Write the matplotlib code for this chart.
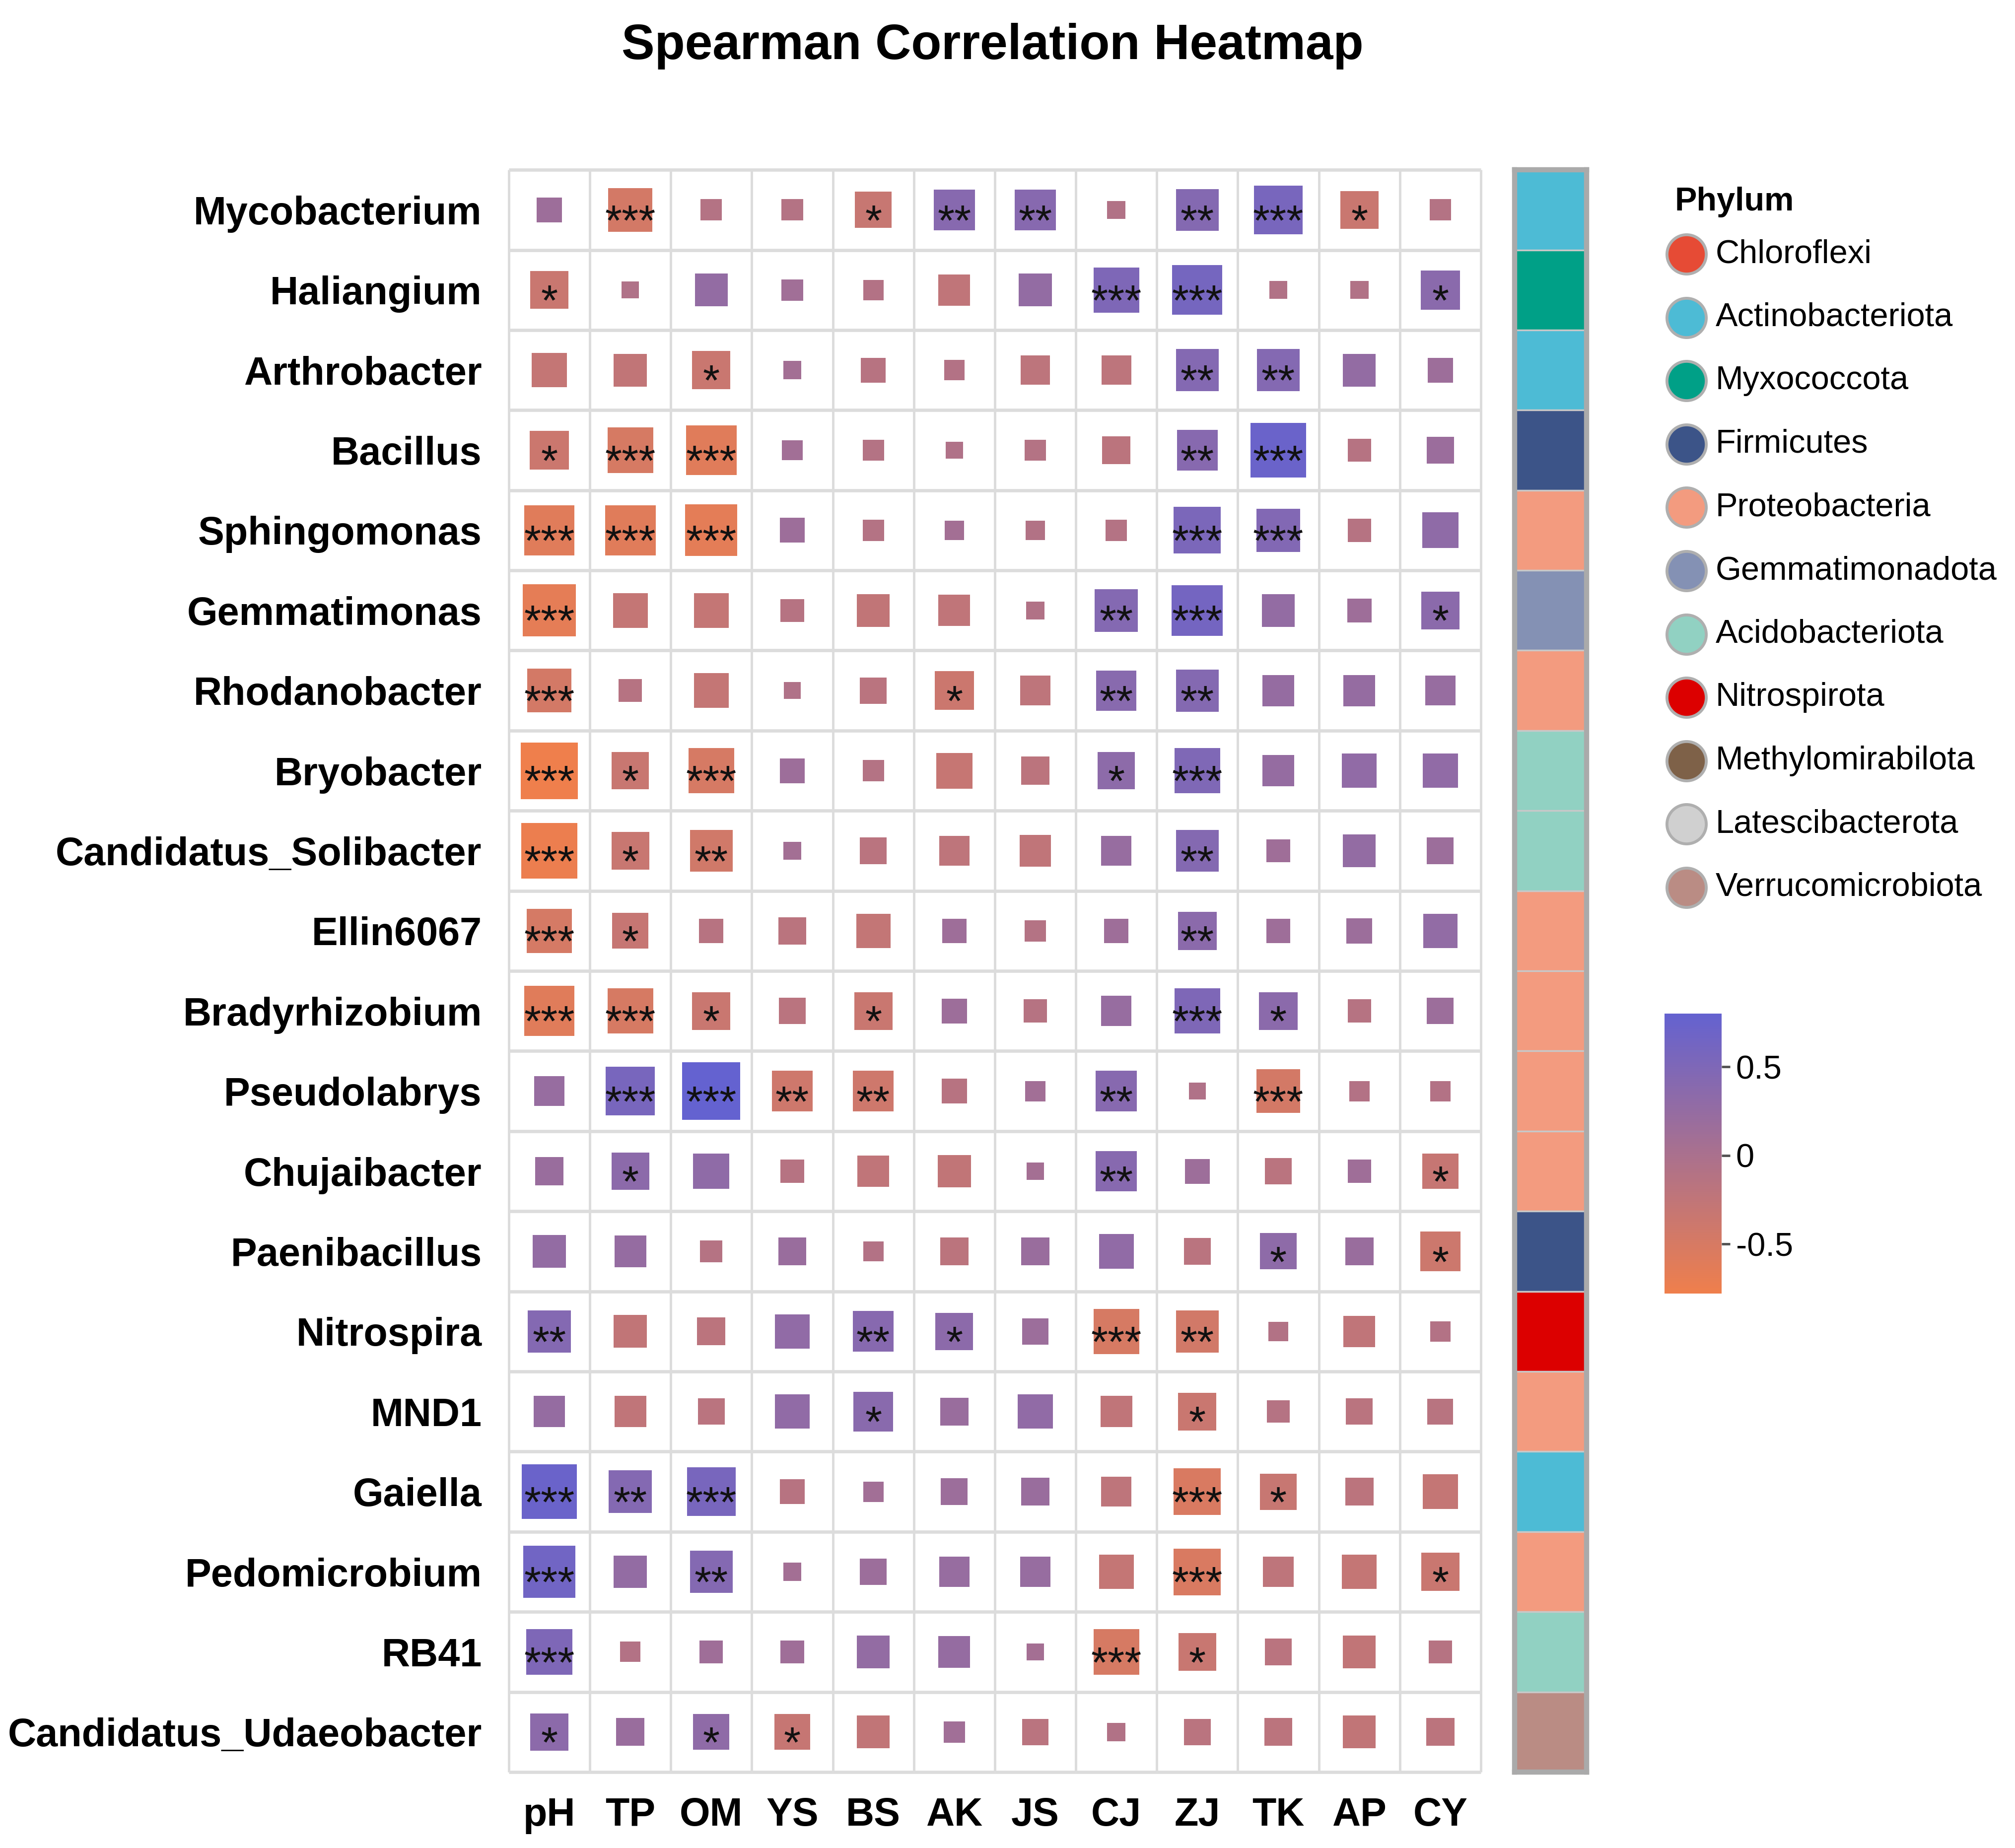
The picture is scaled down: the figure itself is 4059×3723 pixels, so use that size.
import numpy as np
import matplotlib
matplotlib.use('Agg')
import matplotlib.pyplot as plt
from matplotlib.colors import LinearSegmentedColormap, Normalize
from matplotlib.patches import Rectangle
from matplotlib.cm import ScalarMappable

plt.rcParams['font.family'] = 'Liberation Sans'
plt.rcParams['axes.unicode_minus'] = False

# variables (columns) and genera (rows, top to bottom)
env_vars = ['pH', 'TP', 'OM', 'YS', 'BS', 'AK', 'JS', 'CJ', 'ZJ', 'TK', 'AP', 'CY']
genera = ['Mycobacterium', 'Haliangium', 'Arthrobacter', 'Bacillus', 'Sphingomonas',
          'Gemmatimonas', 'Rhodanobacter', 'Bryobacter', 'Candidatus_Solibacter',
          'Ellin6067', 'Bradyrhizobium', 'Pseudolabrys', 'Chujaibacter', 'Paenibacillus',
          'Nitrospira', 'MND1', 'Gaiella', 'Pedomicrobium', 'RB41', 'Candidatus_Udaeobacter']

# spearman r
rho = [
    [0.15, -0.46, -0.11, -0.11, -0.32, 0.40, 0.40, -0.08, 0.43, 0.57, -0.35, -0.11],
    [-0.35, -0.07, 0.26, 0.11, -0.10, -0.24, 0.26, 0.50, 0.60, -0.08, -0.08, 0.37],
    [-0.29, -0.26, -0.35, 0.08, -0.15, -0.10, -0.21, -0.21, 0.44, 0.44, 0.26, 0.15],
    [-0.37, -0.50, -0.61, 0.10, -0.11, -0.07, -0.11, -0.19, 0.40, 0.73, -0.13, 0.18],
    [-0.61, -0.61, -0.65, 0.15, -0.11, 0.09, -0.09, -0.11, 0.53, 0.46, -0.13, 0.31],
    [-0.66, -0.29, -0.29, -0.13, -0.26, -0.24, -0.08, 0.44, 0.62, 0.26, 0.14, 0.35],
    [-0.46, -0.13, -0.29, -0.07, -0.17, -0.37, -0.22, 0.39, 0.43, 0.24, 0.24, 0.22],
    [-0.78, -0.33, -0.49, 0.15, -0.11, -0.31, -0.19, 0.33, 0.49, 0.24, 0.29, 0.29],
    [-0.74, -0.34, -0.43, 0.08, -0.17, -0.22, -0.24, 0.22, 0.43, 0.13, 0.26, 0.17],
    [-0.48, -0.31, -0.14, -0.18, -0.28, 0.14, -0.11, 0.14, 0.36, 0.14, 0.16, 0.28],
    [-0.61, -0.50, -0.35, -0.17, -0.35, 0.15, -0.13, 0.22, 0.50, 0.35, -0.13, 0.17],
    [0.22, 0.57, 0.80, -0.40, -0.40, -0.15, 0.10, 0.40, -0.07, -0.46, -0.10, -0.10],
    [0.19, 0.34, 0.31, -0.13, -0.24, -0.26, 0.07, 0.40, 0.15, -0.17, 0.13, -0.31],
    [0.26, 0.24, -0.12, 0.19, -0.10, -0.19, 0.19, 0.29, -0.17, 0.32, 0.19, -0.38],
    [0.44, -0.26, -0.19, 0.29, 0.40, 0.34, 0.17, -0.50, -0.44, -0.09, -0.24, -0.10],
    [0.24, -0.24, -0.17, 0.29, 0.38, 0.19, 0.29, -0.24, -0.35, -0.12, -0.17, -0.16],
    [0.73, 0.44, 0.57, -0.15, 0.10, 0.17, 0.19, -0.22, -0.53, -0.32, -0.19, -0.29],
    [0.65, 0.26, 0.44, 0.08, 0.17, 0.22, 0.22, -0.29, -0.53, -0.22, -0.29, -0.35],
    [0.50, -0.10, 0.13, 0.13, 0.26, 0.24, 0.07, -0.50, -0.34, -0.17, -0.26, -0.13],
    [0.34, 0.19, 0.31, -0.31, -0.26, 0.11, -0.17, -0.08, -0.17, -0.19, -0.26, -0.19],
]

signif = [
    ['', '***', '', '', '*', '**', '**', '', '**', '***', '*', ''],
    ['*', '', '', '', '', '', '', '***', '***', '', '', '*'],
    ['', '', '*', '', '', '', '', '', '**', '**', '', ''],
    ['*', '***', '***', '', '', '', '', '', '**', '***', '', ''],
    ['***', '***', '***', '', '', '', '', '', '***', '***', '', ''],
    ['***', '', '', '', '', '', '', '**', '***', '', '', '*'],
    ['***', '', '', '', '', '*', '', '**', '**', '', '', ''],
    ['***', '*', '***', '', '', '', '', '*', '***', '', '', ''],
    ['***', '*', '**', '', '', '', '', '', '**', '', '', ''],
    ['***', '*', '', '', '', '', '', '', '**', '', '', ''],
    ['***', '***', '*', '', '*', '', '', '', '***', '*', '', ''],
    ['', '***', '***', '**', '**', '', '', '**', '', '***', '', ''],
    ['', '*', '', '', '', '', '', '**', '', '', '', '*'],
    ['', '', '', '', '', '', '', '', '', '*', '', '*'],
    ['**', '', '', '', '**', '*', '', '***', '**', '', '', ''],
    ['', '', '', '', '*', '', '', '', '*', '', '', ''],
    ['***', '**', '***', '', '', '', '', '', '***', '*', '', ''],
    ['***', '', '**', '', '', '', '', '', '***', '', '', '*'],
    ['***', '', '', '', '', '', '', '***', '*', '', '', ''],
    ['*', '', '*', '*', '', '', '', '', '', '', '', ''],
]

genus_phylum = ['Actinobacteriota', 'Myxococcota', 'Actinobacteriota', 'Firmicutes',
                'Proteobacteria', 'Gemmatimonadota', 'Proteobacteria', 'Acidobacteriota',
                'Acidobacteriota', 'Proteobacteria', 'Proteobacteria', 'Proteobacteria',
                'Proteobacteria', 'Firmicutes', 'Nitrospirota', 'Proteobacteria',
                'Actinobacteriota', 'Proteobacteria', 'Acidobacteriota', 'Verrucomicrobiota']

phyla = ['Chloroflexi', 'Actinobacteriota', 'Myxococcota', 'Firmicutes', 'Proteobacteria',
         'Gemmatimonadota', 'Acidobacteriota', 'Nitrospirota', 'Methylomirabilota',
         'Latescibacterota', 'Verrucomicrobiota']
phylum_colors = ['#E64B35', '#4DBBD5', '#00A087', '#3C5488', '#F39B7F', '#8491B4',
                 '#91D1C2', '#DC0000', '#7E6148', '#D0D0D0', '#BA8C84']

rho = np.array(rho)
n_rows, n_cols = rho.shape
grid_col = '#DCDCDC'

cmap = LinearSegmentedColormap.from_list('spear', ['#EF7F4C', '#6462D0'])
norm = Normalize(vmin=rho.min(), vmax=rho.max())

fig = plt.figure(figsize=(4059 / 300, 3723 / 300), dpi=300)

ax = fig.add_axes([0.2525, 0.0411, 0.4824, 0.8670])
ax.set_xlim(0, n_cols)
ax.set_ylim(n_rows, 0)
for s in ax.spines.values():
    s.set_visible(False)
ax.hlines(np.arange(n_rows + 1), 0, n_cols, color=grid_col, lw=1.6, clip_on=False)
ax.vlines(np.arange(n_cols + 1), 0, n_rows, color=grid_col, lw=1.2, clip_on=False)

for i in range(n_rows):
    for j in range(n_cols):
        r = rho[i, j]
        side = 0.80 * np.sqrt(abs(r))
        ax.add_patch(Rectangle((j + 0.5 - side / 2, i + 0.5 - side / 2), side, side,
                               facecolor=cmap(norm(r)), edgecolor='none'))
        if signif[i][j]:
            ax.text(j + 0.5, i + 0.81, signif[i][j], ha='center', va='baseline',
                    fontsize=21, color='#111111')

ax.set_xticks(np.arange(n_cols) + 0.5)
ax.set_xticklabels(env_vars, fontsize=19, fontweight='bold')
ax.set_yticks(np.arange(n_rows) + 0.5)
ax.set_yticklabels(genera, fontsize=19, fontweight='bold')
ax.tick_params(axis='both', length=0)
ax.tick_params(axis='x', pad=12)
ax.tick_params(axis='y', pad=13)

# phylum annotation bar
bar = fig.add_axes([0.7517, 0.0411, 0.0357, 0.8670])
bar_colors = [phylum_colors[phyla.index(p)] for p in genus_phylum]
bar.barh(np.arange(n_rows) + 0.5, 1, height=1, color=bar_colors,
         edgecolor='#C8C8C8', linewidth=0.8)
bar.set_xlim(0, 1)
bar.set_ylim(n_rows, 0)
bar.set_xticks([])
bar.set_yticks([])
for s in bar.spines.values():
    s.set_color('#AAAAAA')
    s.set_linewidth(2.5)

# phylum legend
fig.text(0.831, 0.8907, 'Phylum', fontsize=16, fontweight='bold', ha='left', va='center')
leg = fig.add_axes([0, 0, 1, 1])
leg.set_xlim(0, 1)
leg.set_ylim(0, 1)
leg.axis('off')
for k, (name, col) in enumerate(zip(phyla, phylum_colors)):
    y = 1 - (512 + 127.6 * k) / 3723
    leg.plot(0.8369, y, 'o', ms=19, mfc=col, mec='#AFAFAF', mew=1.4)
    leg.text(0.8514, y, name, fontsize=16, ha='left', va='center')

# colour bar
cax = fig.add_axes([0.826, 0.300, 0.0283, 0.1515])
sm = ScalarMappable(norm=norm, cmap=cmap)
cb = fig.colorbar(sm, cax=cax, ticks=[-0.5, 0, 0.5])
cb.ax.set_yticklabels(['-0.5', '0', '0.5'])
cb.outline.set_visible(False)
cb.ax.tick_params(length=4, width=1.2, color='#555555', labelsize=16, pad=3)

fig.text(0.4925, 0.975, 'Spearman Correlation Heatmap', fontsize=24,
         fontweight='bold', ha='center', va='center')

fig.savefig('out.png', dpi=300, facecolor='white')
